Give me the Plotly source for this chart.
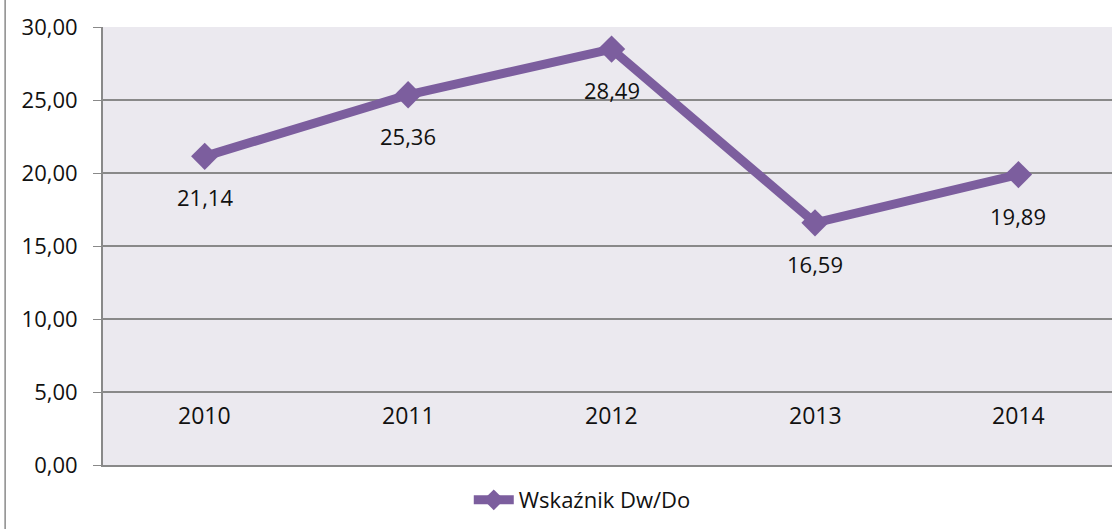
import plotly.graph_objects as go

years = ["2010", "2011", "2012", "2013", "2014"]
values = [21.14, 25.36, 28.49, 16.59, 19.89]
value_labels = ["21,14", "25,36", "28,49", "16,59", "19,89"]
series_name = "Wskaźnik Dw/Do"

purple = "#7C5E9E"
grid = "#898989"
font = "Open Sans"

fig = go.Figure()
fig.add_trace(go.Scatter(
    x=years, y=values, mode="lines+markers", name=series_name,
    line=dict(color=purple, width=9),
    marker=dict(symbol="diamond", size=21, color=purple),
))

annotations = []
for i, (v, lab) in enumerate(zip(values, value_labels)):
    annotations.append(dict(x=i, y=v, xref="x", yref="y", text=lab, showarrow=False,
                            yshift=-41, yanchor="middle",
                            font=dict(family=font, size=22, color="#111111")))
for i, yr in enumerate(years):
    annotations.append(dict(x=i, y=0.114, xref="x", yref="paper", text=yr, showarrow=False,
                            yanchor="middle", font=dict(family=font, size=23, color="#111111")))

fig.update_layout(
    width=1112, height=529,
    margin=dict(l=103, r=0, t=27, b=64),
    paper_bgcolor="white", plot_bgcolor="#EBE9EF",
    separators=", ",
    font=dict(family=font, size=20, color="#111111"),
    showlegend=True,
    legend=dict(orientation="h", x=0.475, xanchor="center", y=-0.08, yanchor="middle",
                font=dict(family=font, size=22, color="#111111"), itemwidth=40),
    annotations=annotations,
    shapes=[dict(type="line", xref="paper", yref="paper", x0=-0.097, x1=-0.097,
                 y0=-0.2, y1=1.1, line=dict(color="#8A8A8A", width=1.5))],
)
fig.update_xaxes(type="category", range=[-0.5, 4.46], showticklabels=False, showgrid=False,
                 showline=True, linecolor=grid, linewidth=2, zeroline=False, fixedrange=True)
fig.update_yaxes(range=[0, 30], dtick=5, tickformat=".2f", showgrid=True, gridcolor=grid, gridwidth=1.5,
                 showline=True, linecolor=grid, linewidth=2, ticks="outside", ticklen=8,
                 tickcolor=grid, zeroline=False, ticklabelstandoff=11,
                 tickfont=dict(family=font, size=22, color="#111111"))

fig.write_html("out.html", config={"displayModeBar": False},
               post_script="document.body.style.margin='0';")
